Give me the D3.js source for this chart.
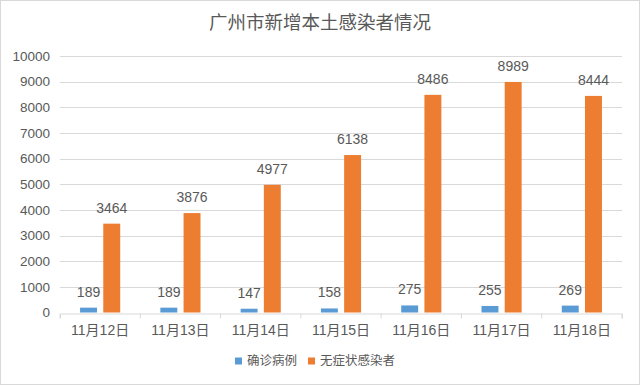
<!DOCTYPE html>
<html>
<head>
<meta charset="utf-8">
<script src="https://cdn.jsdelivr.net/npm/d3@7"></script>
<style>
  body { margin: 0; background: #fff; }
  text { font-family: "Liberation Sans", "Noto Sans CJK SC", sans-serif; fill: #595959; }
  .cjk { font-family: "Noto Sans CJK SC", sans-serif; }
</style>
</head>
<body>
<div class="container"></div>
<script>
const w = 640;
const h = 385;

const dates = ["11月12日", "11月13日", "11月14日", "11月15日", "11月16日", "11月17日", "11月18日"];
const confirmed = [189, 189, 147, 158, 275, 255, 269];
const asymptomatic = [3464, 3876, 4977, 6138, 8486, 8989, 8444];
const seriesNames = ["确诊病例", "无症状感染者"];
const colors = ["#5B9BD5", "#ED7D31"];
const yTicks = [0, 1000, 2000, 3000, 4000, 5000, 6000, 7000, 8000, 9000, 10000];

const margin = { top: 56, bottom: 72, left: 60, right: 18 };

const svg = d3.select('.container').append('svg')
  .attr('width', w)
  .attr('height', h);

// outer frame
svg.append('rect')
  .attr('x', 0.5).attr('y', 0.5)
  .attr('width', w - 1).attr('height', h - 1)
  .attr('fill', '#fff')
  .attr('stroke', '#d9d9d9');

svg.append('text')
  .attr('class', 'cjk')
  .attr('x', w / 2)
  .attr('y', 29)
  .attr('text-anchor', 'middle')
  .style('font-size', '18.5px')
  .text('广州市新增本土感染者情况');

const x = d3.scaleBand()
  .domain(dates)
  .range([margin.left, w - margin.right]);

const inner = d3.scaleBand()
  .domain([0, 1])
  .range([x.bandwidth() * 0.25, x.bandwidth() * 0.75])
  .paddingInner(0.27);

const y = d3.scaleLinear()
  .domain([0, 10000])
  .range([h - margin.bottom - 0.5, margin.top]);

// gridlines
svg.append('g')
  .selectAll('line')
  .data(yTicks.slice(1))
  .enter().append('line')
    .attr('x1', margin.left)
    .attr('x2', w - margin.right)
    .attr('y1', d => Math.round(y(d)) + 0.5)
    .attr('y2', d => Math.round(y(d)) + 0.5)
    .attr('stroke', '#d9d9d9');

// y labels
svg.append('g')
  .selectAll('text')
  .data(yTicks)
  .enter().append('text')
    .attr('x', 50)
    .attr('y', d => y(d))
    .attr('dy', '0.35em')
    .attr('text-anchor', 'end')
    .style('font-size', '13.5px')
    .text(d => d);

// x axis
const xAxis = d3.axisBottom(x).tickSize(5).tickSizeOuter(5).tickFormat('');
const xg = svg.append('g')
  .attr('transform', `translate(0, ${Math.round(y(0)) + 0.5})`)
  .call(xAxis);
xg.select('.domain').attr('stroke', '#d9d9d9');
xg.selectAll('.tick line').attr('stroke', '#d9d9d9')
  .attr('transform', `translate(${-x.bandwidth() / 2}, 0)`);
xg.append('line')
  .attr('x1', w - margin.right).attr('x2', w - margin.right)
  .attr('y1', 0).attr('y2', 5)
  .attr('stroke', '#d9d9d9');

svg.append('g')
  .selectAll('text')
  .data(dates)
  .enter().append('text')
    .attr('x', d => x(d) + x.bandwidth() / 2)
    .attr('y', 335)
    .attr('text-anchor', 'middle')
    .style('font-size', '14px')
    .text(d => d);

const series = [confirmed, asymptomatic];

series.forEach((vals, s) => {
  const g = svg.append('g');
  g.selectAll('rect')
    .data(vals)
    .enter().append('rect')
      .attr('x', (d, i) => x(dates[i]) + inner(s))
      .attr('y', d => y(d))
      .attr('width', inner.bandwidth())
      .attr('height', d => y(0) - y(d))
      .attr('fill', colors[s]);
  g.selectAll('text')
    .data(vals)
    .enter().append('text')
      .attr('x', (d, i) => x(dates[i]) + inner(s) + inner.bandwidth() / 2)
      .attr('y', d => y(d) - 11)
      .attr('text-anchor', 'middle')
      .style('font-size', '14px')
      .text(d => d);
});

// legend
const legend = svg.append('g')
  .attr('transform', 'translate(235, 361)');
const legendX = [0, 73];
seriesNames.forEach((name, i) => {
  legend.append('rect')
    .attr('x', legendX[i])
    .attr('y', -3.5)
    .attr('width', 7).attr('height', 7)
    .attr('fill', colors[i]);
  legend.append('text')
    .attr('class', 'cjk')
    .attr('x', legendX[i] + 12)
    .attr('y', 0)
    .attr('dy', '0.35em')
    .style('font-size', '12.5px')
    .text(name);
});
</script>
</body>
</html>
